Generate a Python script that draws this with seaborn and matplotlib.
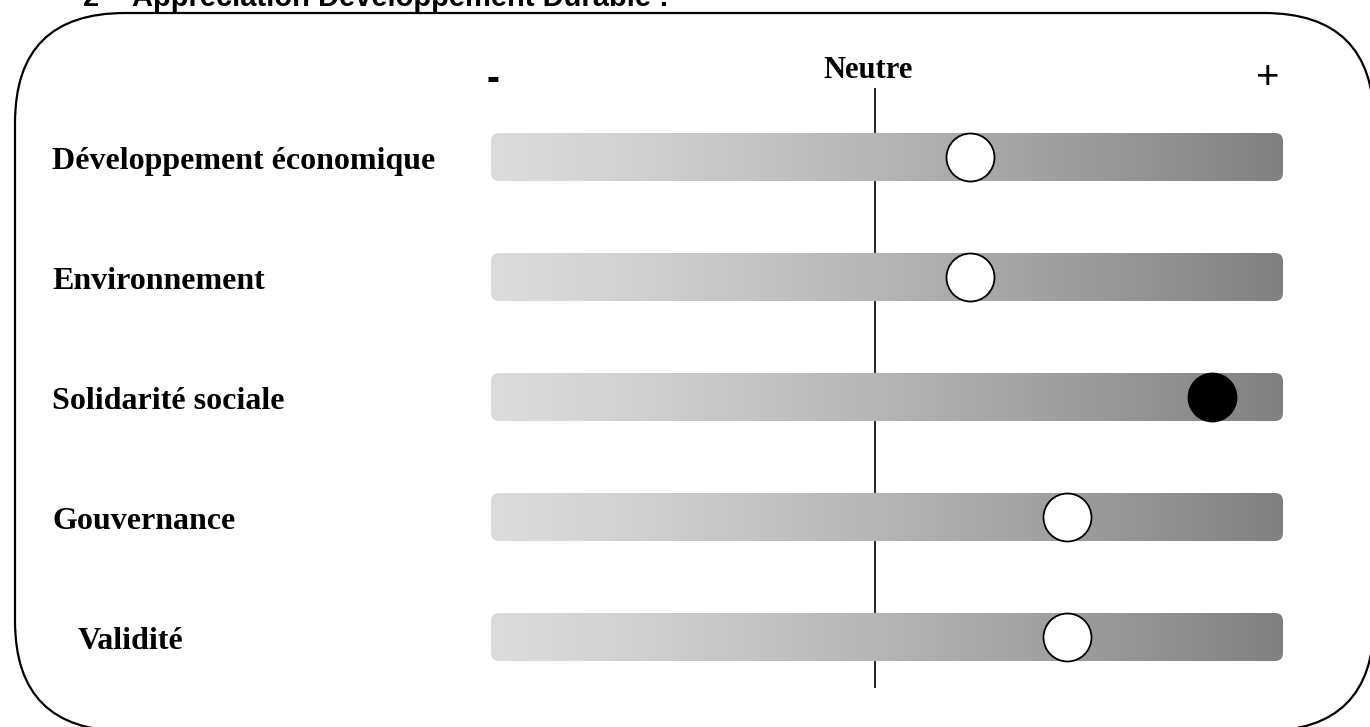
import numpy as np
import pandas as pd
import matplotlib
matplotlib.use("Agg")
import matplotlib.pyplot as plt
from matplotlib.patches import FancyBboxPatch
import seaborn as sns

# data
criteres = ["Développement économique", "Environnement", "Solidarité sociale",
            "Gouvernance", "Validité"]
scores = [60.5, 60.5, 91.0, 72.7, 72.7]          # position on a 0-100 scale
remplis = [False, False, True, False, False]      # filled marker or not
neutre = 48.5

sns.set_style("white")
plt.rcParams['font.family'] = ['Liberation Serif', 'DejaVu Serif']
plt.rcParams['text.color'] = 'black'

W, H = 1370, 727
fig = plt.figure(figsize=(W / 100, H / 100), dpi=100)

# frame with rounded corners (pixel coords)
axf = fig.add_axes([0, 0, 1, 1])
axf.set_xlim(0, W)
axf.set_ylim(H, 0)
axf.axis("off")
axf.add_patch(FancyBboxPatch((15, 13), 1374 - 15, 731 - 13,
                             boxstyle="round,pad=0,rounding_size=110",
                             fc="white", ec="black", lw=1.6, clip_on=False))

# main axes: 0..100 maps to pixels 491..1283, rows every 120 px from y=157
ax = fig.add_axes([0, 0, 1, 1])
ax.patch.set_alpha(0)
pxu = (1283 - 491) / 100.0

# neutral line
ax.vlines(neutre, (88 - 157) / 120, (688 - 157) / 120, color="black", lw=1.2, zorder=1)

# gradient bars
t = np.linspace(0, 1, 400)
grey = (220 - 92 * t ** 1.2) / 255.0
grad = np.dstack([grey, grey, grey]).repeat(2, axis=0)
half = 0.2
for i, nom in enumerate(criteres):
    im = ax.imshow(grad, extent=[0, 100, i + half, i - half], aspect="auto",
                   interpolation="bilinear", zorder=2)
    clip = FancyBboxPatch((0, i - half), 100, 2 * half,
                          boxstyle="round,pad=0,rounding_size=1.0",
                          mutation_aspect=pxu / 120.0,
                          fc="none", ec="none", transform=ax.transData)
    ax.add_patch(clip)
    im.set_clip_path(clip)

# markers
df = pd.DataFrame({"critere": criteres, "score": scores, "y": range(len(criteres)),
                   "rempli": remplis})
size = (48 * 72 / 100) ** 2
for rempli, sub in df.groupby("rempli"):
    sns.scatterplot(data=sub, x="score", y="y", ax=ax, s=size,
                    color="black" if rempli else "white",
                    edgecolor="black", linewidth=1.3, zorder=3, legend=False)
ax.set_xlim(-491 / pxu, (W - 491) / pxu)
ax.set_ylim((H - 157) / 120.0, -157 / 120.0)
ax.axis("off")

# row labels
for i, nom in enumerate(criteres):
    x0 = 78 if nom == "Validité" else 52
    ax.text((x0 - 491) / pxu, i + 0.04, nom, fontsize=23, fontweight="bold",
            ha="left", va="center")

# scale annotations
ax.text(47.6, -0.72, "Neutre", fontsize=22, fontweight="bold", ha="center", va="center")
ax.text(0.2, -0.64, "-", fontsize=28, fontweight="bold", ha="center", va="center",
        family=["Liberation Sans", "DejaVu Sans"])
ax.text(98.1, -0.66, "+", fontsize=29, ha="center", va="center",
        family=["Liberation Sans", "DejaVu Sans"])

# cut-off section title
ax.text((83 - 491) / pxu, (6 - 157) / 120, "2", fontsize=21, fontweight="bold",
        ha="left", va="baseline", family=["Liberation Sans", "DejaVu Sans"])
ax.text((132 - 491) / pxu, (6 - 157) / 120, "Appréciation Développement Durable :",
        fontsize=21, fontweight="bold", ha="left", va="baseline",
        family=["Liberation Sans", "DejaVu Sans"])

fig.savefig("out.png", dpi=100)
plt.close()
